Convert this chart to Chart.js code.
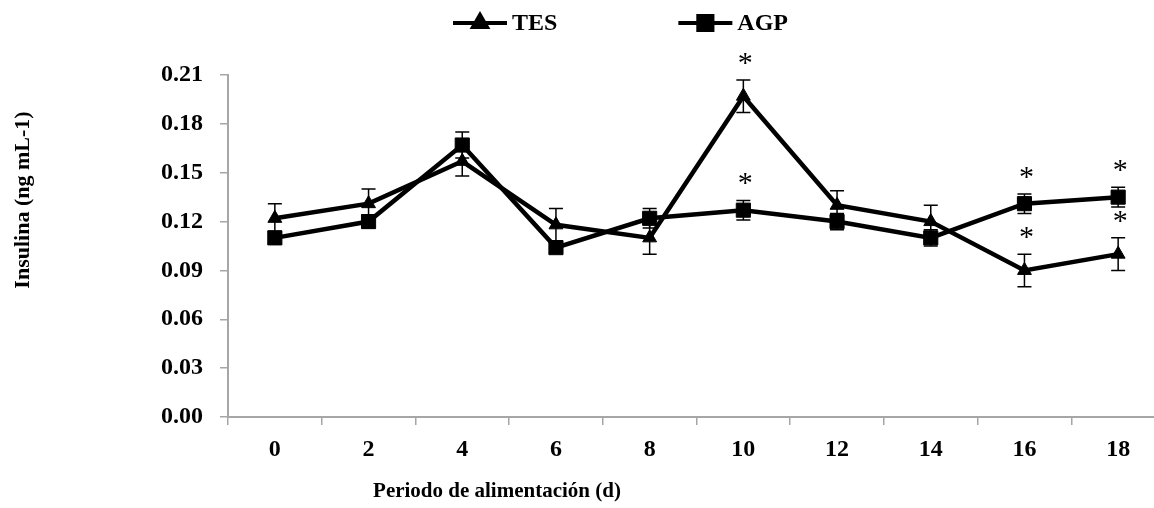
<!DOCTYPE html>
<html>
<head>
<meta charset="utf-8">
<script src="https://cdn.jsdelivr.net/npm/chart.js@4"></script>
<style>
    body { margin: 0; overflow: hidden; background: #fff; }
    #wrap { width: 1176px; height: 508px; }
</style>
</head>
<body>
<div id="wrap"><canvas id="chart" width="1176" height="508"></canvas></div>
<script>
// days of feeding
const dias = ['0', '2', '4', '6', '8', '10', '12', '14', '16', '18'];

// TES series (mean and error)
const tes = [0.122, 0.131, 0.157, 0.118, 0.110, 0.197, 0.130, 0.120, 0.090, 0.100];
const tesErr = [0.009, 0.009, 0.009, 0.010, 0.010, 0.010, 0.009, 0.010, 0.010, 0.010];
const tesSig = [false, false, false, false, false, true, false, false, true, true];

// AGP series (mean and error)
const agp = [0.110, 0.120, 0.167, 0.104, 0.122, 0.127, 0.120, 0.110, 0.131, 0.135];
const agpErr = [0.004, 0.004, 0.008, 0.003, 0.006, 0.006, 0.005, 0.005, 0.006, 0.006];
const agpSig = [false, false, false, false, false, true, false, false, true, true];

const yTicks = [0, 0.03, 0.06, 0.09, 0.12, 0.15, 0.18, 0.21];

const errs = [tesErr, agpErr];
const sigs = [tesSig, agpSig];

const FONT = 'Liberation Serif, Times New Roman, serif';
const GRAY = '#a6a6a6';

const errorBars = {
    id: 'errorBars',
    afterDatasetsDraw(chart) {
        const ctx = chart.ctx;
        const y = chart.scales.y;
        ctx.save();
        ctx.strokeStyle = '#000';
        ctx.lineWidth = 1.5;
        ctx.fillStyle = '#000';
        ctx.font = '30px ' + FONT;
        ctx.textAlign = 'center';
        ctx.textBaseline = 'alphabetic';
        chart.data.datasets.forEach(function (ds, i) {
            const meta = chart.getDatasetMeta(i);
            meta.data.forEach(function (pt, j) {
                const v = ds.data[j];
                const e = errs[i][j];
                const top = y.getPixelForValue(v + e);
                const bot = y.getPixelForValue(v - e);
                ctx.beginPath();
                ctx.moveTo(pt.x, top);
                ctx.lineTo(pt.x, bot);
                ctx.moveTo(pt.x - 7, top);
                ctx.lineTo(pt.x + 7, top);
                ctx.moveTo(pt.x - 7, bot);
                ctx.lineTo(pt.x + 7, bot);
                ctx.stroke();
                if (sigs[i][j]) {
                    ctx.fillText('*', pt.x + 2, top - 8);
                }
            });
        });
        ctx.restore();
    }
};

const customLegend = {
    id: 'customLegend',
    afterDraw(chart) {
        const ctx = chart.ctx;
        ctx.save();
        ctx.font = 'bold 24px ' + FONT;
        ctx.textBaseline = 'middle';
        ctx.fillStyle = '#000';
        let x = 453;
        const yy = 23;
        chart.data.datasets.forEach(function (ds) {
            ctx.strokeStyle = ds.borderColor;
            ctx.lineWidth = 4;
            ctx.beginPath();
            ctx.moveTo(x, yy);
            ctx.lineTo(x + 54, yy);
            ctx.stroke();
            ctx.fillStyle = '#000';
            Chart.helpers.drawPoint(ctx, {
                pointStyle: ds.pointStyle,
                radius: ds.pointRadius,
                borderWidth: 1,
                rotation: 0
            }, x + 27, yy);
            ctx.fillStyle = '#000';
            ctx.textAlign = 'left';
            ctx.fillText(ds.label, x + 59, yy + 1);
            x += 59 + ctx.measureText(ds.label).width + 121;
        });
        ctx.restore();
    }
};

const axisTitles = {
    id: 'axisTitles',
    afterDraw(chart) {
        const ctx = chart.ctx;
        ctx.save();
        ctx.fillStyle = '#000';
        ctx.font = 'bold 21px ' + FONT;
        ctx.textAlign = 'center';
        ctx.textBaseline = 'middle';
        ctx.fillText('Periodo de alimentación (d)', 497, 492);
        ctx.font = 'bold 22px ' + FONT;
        ctx.translate(23, 200);
        ctx.rotate(-Math.PI / 2);
        ctx.fillText('Insulina (ng mL-1)', 0, 0);
        ctx.restore();
    }
};

const ctx = document.getElementById('chart').getContext('2d');
const chart = new Chart(ctx, {
    type: 'line',
    data: {
        labels: dias,
        datasets: [{
            label: 'TES',
            data: tes,
            borderColor: '#000',
            backgroundColor: '#000',
            borderWidth: 4.5,
            pointStyle: 'triangle',
            pointRadius: 8,
            pointBorderWidth: 1,
            pointBackgroundColor: '#000',
            pointBorderColor: '#000',
            tension: 0
        }, {
            label: 'AGP',
            data: agp,
            borderColor: '#000',
            backgroundColor: '#000',
            borderWidth: 4.5,
            pointStyle: 'rect',
            pointRadius: 10,
            pointBorderWidth: 1,
            pointBackgroundColor: '#000',
            pointBorderColor: '#000',
            tension: 0
        }]
    },
    options: {
        responsive: false,
        animation: false,
        layout: { padding: { top: 75, left: 0, right: 0, bottom: 0 } },
        plugins: {
            legend: { display: false },
            tooltip: { enabled: false }
        },
        scales: {
            x: {
                offset: true,
                afterFit: function (s) { s.height = 91; },
                grid: {
                    offset: true,
                    drawOnChartArea: false,
                    tickLength: 8,
                    color: GRAY,
                    lineWidth: 1.5
                },
                border: { color: GRAY, width: 2 },
                ticks: {
                    color: '#000',
                    padding: 10,
                    maxRotation: 0,
                    font: { family: FONT, size: 24, weight: 'bold' }
                }
            },
            y: {
                min: 0,
                max: 0.21,
                afterFit: function (s) { s.width = 228; },
                afterBuildTicks: function (s) {
                    s.ticks = yTicks.map(function (v) { return { value: v }; });
                },
                grid: {
                    drawOnChartArea: false,
                    tickLength: 8,
                    color: GRAY,
                    lineWidth: 1.5
                },
                border: { color: GRAY, width: 2 },
                ticks: {
                    color: '#000',
                    padding: 17,
                    font: { family: FONT, size: 24, weight: 'bold' },
                    callback: function (v) { return Number(v).toFixed(2); }
                }
            }
        }
    },
    plugins: [errorBars, customLegend, axisTitles]
});
</script>
</body>
</html>
